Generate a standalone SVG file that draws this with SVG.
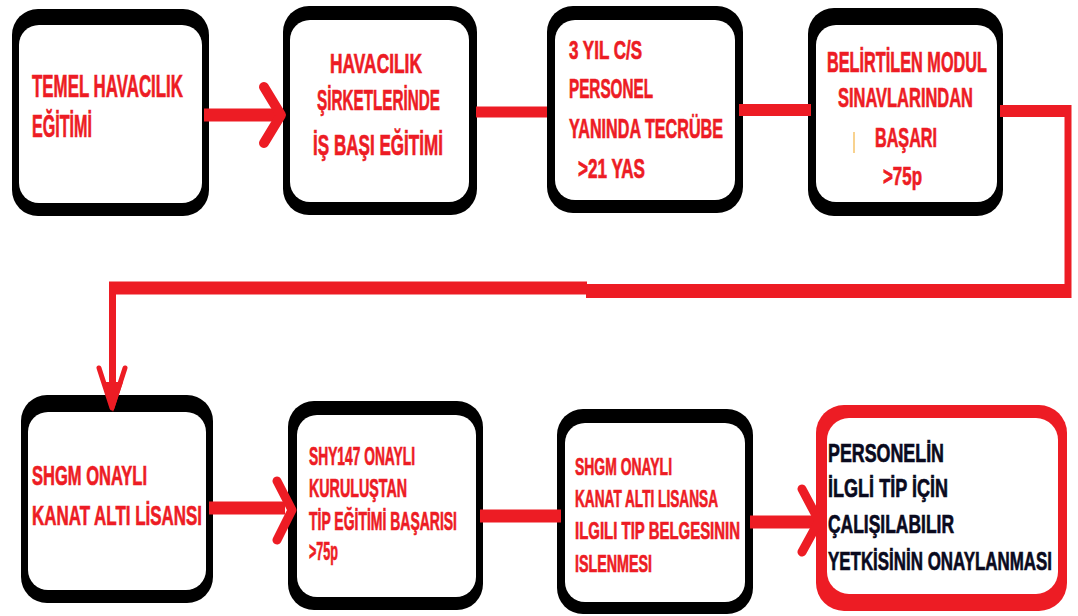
<svg xmlns="http://www.w3.org/2000/svg" width="1078" height="616" viewBox="0 0 1078 616">
<style>
.ob{fill:#000}
.or{fill:#ed1c24}
.in{fill:#fff}
text{font-family:"Liberation Sans",Arial,sans-serif;font-weight:bold;fill:#ed1c24;stroke:#ed1c24;stroke-width:0.4}
.dk{fill:#0a0a1e;stroke:#0a0a1e}
.ln{stroke:#ed1c24;fill:none;stroke-linecap:butt}
.ah{stroke:#ed1c24;fill:none;stroke-linecap:round;stroke-linejoin:round}
</style>
<rect width="1078" height="616" fill="#fff"/>
<g id="n1">
<rect class="ob" x="12" y="9" width="197" height="207" rx="26"/>
<rect class="in" x="19" y="25" width="183" height="178" rx="20"/>
<text transform="translate(32,97) scale(1,1.7)" font-size="18.5" textLength="151" lengthAdjust="spacingAndGlyphs">TEMEL HAVACILIK</text>
<text transform="translate(32,137) scale(1,1.7)" font-size="18" textLength="60" lengthAdjust="spacingAndGlyphs">EĞİTİMİ</text>
</g>
<g id="n2">
<rect class="ob" x="283" y="6" width="194" height="209" rx="26"/>
<rect class="in" x="290" y="20" width="179" height="182" rx="20"/>
<text transform="translate(330,73) scale(1,1.7)" font-size="16.5" textLength="92" lengthAdjust="spacingAndGlyphs">HAVACILIK</text>
<text transform="translate(317,110) scale(1,1.7)" font-size="17.5" textLength="123" lengthAdjust="spacingAndGlyphs">ŞİRKETLERİNDE</text>
<text transform="translate(313,155) scale(1,1.7)" font-size="17.5" textLength="130" lengthAdjust="spacingAndGlyphs">İŞ BAŞI EĞİTİMİ</text>
</g>
<g id="n3">
<rect class="ob" x="547" y="6" width="196" height="207" rx="26"/>
<rect class="in" x="555" y="20" width="180" height="180" rx="20"/>
<text transform="translate(569,59) scale(1,1.7)" font-size="15" textLength="73" lengthAdjust="spacingAndGlyphs">3 YIL C/S</text>
<text transform="translate(569,98) scale(1,1.7)" font-size="16" textLength="84" lengthAdjust="spacingAndGlyphs">PERSONEL</text>
<text transform="translate(569,138) scale(1,1.7)" font-size="16.5" textLength="154" lengthAdjust="spacingAndGlyphs">YANINDA TECRÜBE</text>
<text transform="translate(578,178) scale(1,1.7)" font-size="16.5" textLength="67" lengthAdjust="spacingAndGlyphs">&gt;21 YAS</text>
</g>
<g id="n4">
<rect class="ob" x="808" y="8" width="195" height="208" rx="26"/>
<rect class="in" x="816" y="25" width="181" height="177" rx="20"/>
<text transform="translate(827,72) scale(1,1.7)" font-size="17.5" textLength="160" lengthAdjust="spacingAndGlyphs">BELİRTİLEN MODUL</text>
<text transform="translate(838,107) scale(1,1.7)" font-size="16.5" textLength="135" lengthAdjust="spacingAndGlyphs">SINAVLARINDAN</text>
<text transform="translate(875,147) scale(1,1.7)" font-size="16" textLength="62" lengthAdjust="spacingAndGlyphs">BAŞARI</text>
<text transform="translate(883,185) scale(1,1.7)" font-size="15" textLength="39" lengthAdjust="spacingAndGlyphs">&gt;75p</text>
<line x1="854" y1="132" x2="854" y2="153" stroke="#f6c36a" stroke-width="1.5"/>
</g>
<g id="n5">
<rect class="ob" x="21" y="395" width="192" height="208" rx="26"/>
<rect class="in" x="28" y="412" width="178" height="178" rx="20"/>
<text transform="translate(32,485) scale(1,1.7)" font-size="16" textLength="115" lengthAdjust="spacingAndGlyphs">SHGM ONAYLI</text>
<text transform="translate(32,525) scale(1,1.7)" font-size="16.5" textLength="170" lengthAdjust="spacingAndGlyphs">KANAT ALTI LİSANSI</text>
</g>
<g id="n6">
<rect class="ob" x="288" y="401" width="195" height="209" rx="26"/>
<rect class="in" x="297" y="415" width="179" height="182" rx="20"/>
<text transform="translate(309,465) scale(1,1.7)" font-size="14.8" textLength="106" lengthAdjust="spacingAndGlyphs">SHY147 ONAYLI</text>
<text transform="translate(309,497) scale(1,1.7)" font-size="14.8" textLength="98" lengthAdjust="spacingAndGlyphs">KURULUŞTAN</text>
<text transform="translate(309,530) scale(1,1.7)" font-size="14.8" textLength="148" lengthAdjust="spacingAndGlyphs">TİP EĞİTİMİ BAŞARISI</text>
<text transform="translate(309,560) scale(1,1.7)" font-size="14.8" textLength="29" lengthAdjust="spacingAndGlyphs">&gt;75p</text>
</g>
<g id="n7">
<rect class="ob" x="557" y="409" width="196" height="205" rx="26"/>
<rect class="in" x="565" y="423" width="180" height="179" rx="20"/>
<text transform="translate(575,475) scale(1,1.7)" font-size="14" textLength="97" lengthAdjust="spacingAndGlyphs">SHGM ONAYLI</text>
<text transform="translate(575,507) scale(1,1.7)" font-size="14" textLength="143" lengthAdjust="spacingAndGlyphs">KANAT ALTI LISANSA</text>
<text transform="translate(575,539) scale(1,1.7)" font-size="14" textLength="165" lengthAdjust="spacingAndGlyphs">ILGILI TIP BELGESININ</text>
<text transform="translate(575,572) scale(1,1.7)" font-size="14" textLength="77" lengthAdjust="spacingAndGlyphs">ISLENMESI</text>
</g>
<g id="n8">
<rect class="or" x="816" y="405" width="251" height="206" rx="28"/>
<rect class="in" x="827" y="418" width="231" height="176" rx="22"/>
<text class="dk" transform="translate(828,462) scale(1,1.7)" font-size="15.5" textLength="116" lengthAdjust="spacingAndGlyphs">PERSONELİN</text>
<text class="dk" transform="translate(828,497) scale(1,1.7)" font-size="15.5" textLength="120" lengthAdjust="spacingAndGlyphs">İLGLİ TİP İÇİN</text>
<text class="dk" transform="translate(828,533) scale(1,1.7)" font-size="15.5" textLength="126" lengthAdjust="spacingAndGlyphs">ÇALIŞILABILIR</text>
<text class="dk" transform="translate(828,570) scale(1,1.7)" font-size="15.5" textLength="224" lengthAdjust="spacingAndGlyphs">YETKİSİNİN ONAYLANMASI</text>
</g>
<g id="connectors">
<line class="ln" x1="204" y1="115" x2="278" y2="115" stroke-width="13" stroke-linecap="round"/>
<path class="ah" d="M264,87 L281,115 L264,143" stroke-width="10"/>
<line class="ln" x1="476" y1="112" x2="547" y2="112" stroke-width="11" stroke-linecap="round"/>
<line class="ln" x1="739" y1="110" x2="811" y2="110" stroke-width="12" stroke-linecap="round"/>
<line class="ln" x1="1000" y1="111" x2="1071" y2="111" stroke-width="12"/>
<line class="ln" x1="1068" y1="105" x2="1068" y2="298" stroke-width="7"/>
<line class="ln" x1="1071" y1="291" x2="586" y2="291" stroke-width="14"/>
<line class="ln" x1="587" y1="288" x2="109" y2="288" stroke-width="13"/>
<line class="ln" x1="112.5" y1="282" x2="112.5" y2="396" stroke-width="7"/>
<path class="ah" d="M99,368 L112,408 L125,368" stroke-width="5"/>
<polygon points="102,382 123,382 113,412" fill="#ed1c24"/>
<line class="ln" x1="209" y1="508" x2="285" y2="508" stroke-width="13" stroke-linecap="round"/>
<path class="ah" d="M277,481 L292,510 L277,540" stroke-width="9"/>
<line class="ln" x1="480" y1="516" x2="561" y2="516" stroke-width="13" stroke-linecap="round"/>
<line class="ln" x1="750" y1="522" x2="815" y2="522" stroke-width="13" stroke-linecap="round"/>
<path class="ah" d="M802,489 L819,521 L802,552" stroke-width="9"/>
</g>
</svg>
